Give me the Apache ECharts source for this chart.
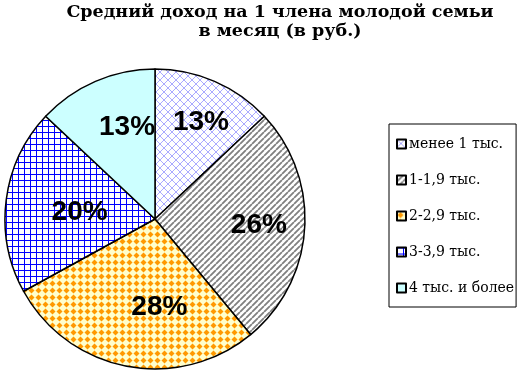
<!DOCTYPE html>
<html><head><meta charset="utf-8">
<script src="https://cdn.jsdelivr.net/npm/echarts@6/dist/echarts.min.js"></script>
<style>html,body{margin:0;padding:0;background:#fff}#c{width:518px;height:371px}</style>
</head><body><div id="c"></div>
<script>
const titleLines = ['Средний доход на 1 члена молодой семьи', 'в месяц (в руб.)'];
const categories = ['менее 1 тыс.', '1-1,9 тыс.', '2-2,9 тыс.', '3-3,9 тыс.', '4 тыс. и более'];
const values = [13, 26, 28, 20, 13];
// label nudges (style only), px
const labelNudgeX = [15, 26, 19, 2, 3];
const labelNudgeY = [-25, 1, 12, 3, -20];

function tile(w, h, bg, draw) {
  const c = document.createElement('canvas'); c.width = w; c.height = h;
  const g = c.getContext('2d'); g.fillStyle = bg; g.fillRect(0, 0, w, h); draw(g);
  return { image: c, repeat: 'repeat' };
}
const fills = [
  tile(8, 8, '#ffffff', g => { g.strokeStyle = '#aaaaff'; g.lineWidth = 1;
    g.beginPath(); g.moveTo(0, 8); g.lineTo(8, 0); g.moveTo(0, 0); g.lineTo(4, 4); g.moveTo(4,4); g.lineTo(8,8); g.stroke();
    g.beginPath(); g.moveTo(-1,1); g.lineTo(1,-1); g.moveTo(7,9); g.lineTo(9,7); g.stroke(); }),
  tile(6, 6, '#ffffff', g => { g.strokeStyle = '#808080'; g.lineWidth = 1.8;
    g.beginPath(); for (let k = -6; k <= 12; k += 6) { g.moveTo(k, 6); g.lineTo(k + 6, 0); } g.stroke(); }),
  tile(7, 7, '#ffffcc', g => { g.fillStyle = '#ff9900';
    g.beginPath(); g.moveTo(3.5, 0.5); g.lineTo(6.5, 3.5); g.lineTo(3.5, 6.5); g.lineTo(0.5, 3.5); g.closePath(); g.fill(); }),
  tile(6, 6, '#ffffff', g => { g.fillStyle = '#0000ff'; g.fillRect(0, 0, 6, 1); g.fillRect(0, 0, 1, 6); }),
  tile(4, 4, '#ccffff', g => {})
];

const chart = echarts.init(document.getElementById('c'), null, { renderer: 'canvas' });
chart.setOption({
  animation: false,
  title: {
    text: titleLines.join('\n'), left: 275, top: -2, textAlign: 'center',
    textStyle: { fontFamily: 'DejaVu Serif', fontWeight: 'bold', fontSize: 17.5, lineHeight: 19, color: '#000' }
  },
  legend: {
    orient: 'vertical', left: 389, top: 124,
    padding: [13, 2, 12, 7], itemGap: 22, itemWidth: 9, itemHeight: 9,
    borderColor: '#000', borderWidth: 1, icon: 'rect',
    itemStyle: { borderColor: '#000', borderWidth: 2 },
    textStyle: { fontFamily: 'DejaVu Serif', fontSize: 14, color: '#000', padding: [0, 0, 0, -2] },
    data: categories
  },
  series: [{
    type: 'pie', center: [155, 219], radius: [0, 150], startAngle: 90, clockwise: true,
    silent: true,
    itemStyle: { borderColor: '#000', borderWidth: 1.5 },
    label: { show: true, position: 'inside', formatter: '{c}%',
      fontFamily: 'Liberation Sans', fontWeight: 'bold', fontSize: 28, color: '#000' },
    labelLayout: p => ({ dx: labelNudgeX[p.dataIndex], dy: labelNudgeY[p.dataIndex] }),
    data: categories.map((n, i) => ({ name: n, value: values[i], itemStyle: { color: fills[i] } }))
  }]
});
</script></body></html>
